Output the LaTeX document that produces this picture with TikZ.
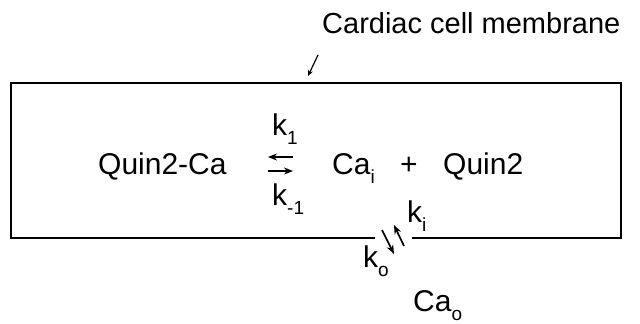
\documentclass[tikz,border=0pt]{standalone}
\usepackage{amsmath, amssymb}
\usepackage{tikz}
\usepackage{xcolor}
\usepackage{fontspec}
\setmainfont{Liberation Sans}
\usetikzlibrary{arrows.meta}
\newcommand{\lowsub}[1]{\raisebox{-0.33em}{\fontsize{19}{19}\selectfont #1}}

\begin{document}
\begin{tikzpicture}[x=1pt,y=-1pt,>={Stealth[length=9pt,width=7pt]},
  lbl/.style={anchor=base west,inner sep=0pt,font=\fontsize{30}{36}\selectfont},
  memline/.style={line width=1.6pt},
  rxn/.style={->,line width=1.7pt}]
  \useasboundingbox (0,0) rectangle (640,324);
  % Membrane with a gap for the channel
  \coordinate (gapL) at (375,238);
  \coordinate (gapR) at (412,238);
  \draw[memline] (gapL) -- (11,238) -- (11,83) -- (621,83) -- (621,238) -- (gapR);
  % Labels
  \node[lbl,font=\fontsize{29}{34}\selectfont] (title) at (322,33) {Cardiac cell membrane};
  \node[lbl] (quinca) at (98,174) {Quin2-Ca};
  \node[lbl] (cai) at (332,174) {Ca\lowsub{i}};
  \node[lbl] (plus) at (400,174) {+};
  \node[lbl] (quin) at (443,174) {Quin2};
  \node[lbl] (kone) at (272,135) {k\lowsub{1}};
  \node[lbl] (kmone) at (272,205) {k\lowsub{-1}};
  \node[lbl] (ki) at (407,222) {k\lowsub{i}};
  \node[lbl] (ko) at (363,267) {k\lowsub{o}};
  \node[lbl] (cao) at (413,311) {Ca\lowsub{o}};
  % Pointer to membrane
  \coordinate (ptail) at (318,55);
  \coordinate (phead) at (308,76);
  \draw[->,line width=1.2pt,>={Stealth[length=6pt,width=5pt]}] (ptail) -- (phead);
  % Binding equilibrium
  \coordinate (eqL1) at (268,157);
  \coordinate (eqR1) at (293,157);
  \coordinate (eqL2) at (268,171);
  \coordinate (eqR2) at (293,171);
  \draw[rxn] (eqR1) -- (eqL1);
  \draw[rxn] (eqL2) -- (eqR2);
  % Exchange across the membrane
  \coordinate (outA) at (382,230);
  \coordinate (outB) at (394,254);
  \coordinate (inA) at (404,246);
  \coordinate (inB) at (394,225);
  \draw[rxn] (outA) -- (outB);
  \draw[rxn] (inA) -- (inB);
\end{tikzpicture}
\end{document}
